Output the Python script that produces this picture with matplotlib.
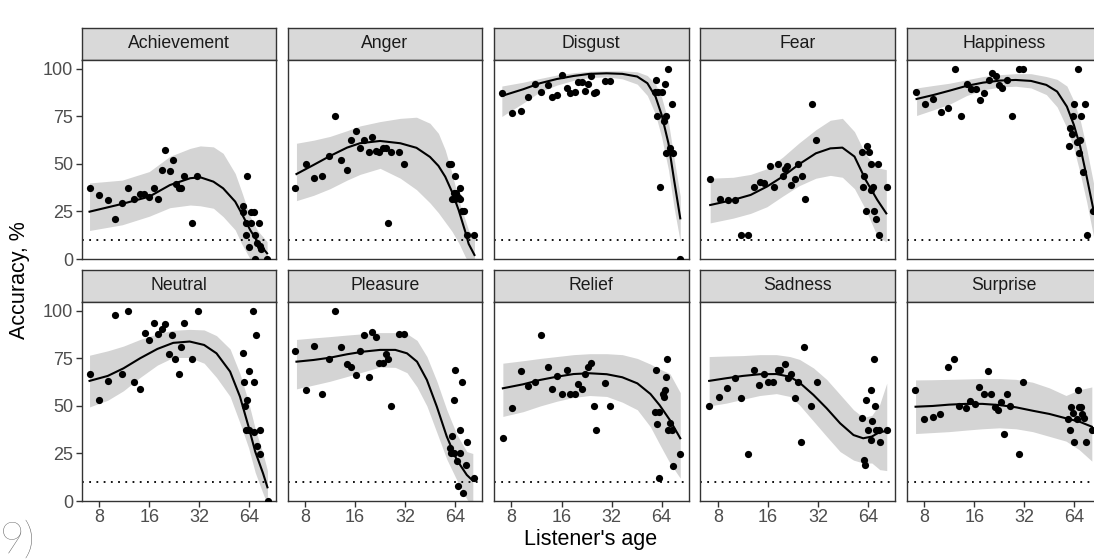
import numpy as np
import matplotlib.pyplot as plt
from matplotlib.ticker import NullLocator

plt.rcParams['font.family'] = ['Liberation Sans', 'DejaVu Sans']

emotions = ["Achievement", "Anger", "Disgust", "Fear", "Happiness",
            "Neutral", "Pleasure", "Relief", "Sadness", "Surprise"]

# observed points: (listener age, accuracy %)
achievement_pts = [(7.0, 37.5), (8.0, 33.5), (9.0, 30.9), (10.0, 20.9), (11.0, 29.3), (12.0, 37.5),
                   (13.0, 31.4), (14.0, 34.0), (14.9, 34.0), (16.0, 32.5), (17.1, 37.5), (18.0, 31.4),
                   (19.2, 47.0), (20.0, 57.2), (21.2, 46.5), (22.2, 52.1), (23.1, 39.5), (24.2, 37.5),
                   (24.8, 37.5), (26.0, 43.9), (29.1, 18.8), (31.1, 43.9),
                   (58.3, 28.1), (58.8, 24.9), (62.0, 43.9), (60.7, 18.8), (61.2, 12.5), (63.3, 6.3),
                   (65.3, 24.9), (68.3, 24.9), (65.3, 18.8), (72.7, 18.8), (69.2, 12.5), (70.9, 8.2),
                   (73.7, 7.0), (75.6, 5.3), (69.2, 0), (81.8, 0)]
anger_pts = [(7.0, 37.5), (8.1, 50.2), (9.1, 42.8), (10.1, 43.9), (11.1, 54.4), (12.1, 75.3),
             (13.2, 52.3), (14.2, 47.0), (15.1, 62.6), (16.1, 67.5), (17.2, 58.6), (18.2, 62.6),
             (19.3, 56.3), (20.2, 64.4), (21.4, 57.0), (22.3, 56.3), (23.6, 58.2), (24.5, 58.6),
             (25.2, 18.8), (26.3, 56.3), (29.2, 56.3), (31.3, 50.2),
             (59.0, 50.2), (60.0, 50.2), (64.1, 43.9), (68.8, 37.5), (62.5, 34.6), (64.6, 34.6),
             (66.6, 32.8), (61.2, 31.4), (63.7, 31.4), (68.0, 31.4), (70.2, 25.3), (72.0, 25.3),
             (75.1, 12.5), (83.1, 12.5)]
disgust_pts = [(7.0, 87.5), (8.1, 76.7), (9.1, 78.1), (10.1, 85.4), (11.1, 92.1), (12.1, 87.7),
               (13.2, 91.8), (14.1, 85.4), (15.1, 86.3), (16.1, 96.8), (17.2, 89.8), (18.1, 87.5),
               (19.3, 87.7), (20.1, 93.3), (21.1, 93.3), (22.2, 88.6), (23.0, 91.9), (24.2, 96.1),
               (25.1, 87.5), (25.8, 87.7), (29.4, 93.9), (31.2, 93.9),
               (59.2, 94.0), (70.3, 100), (66.6, 91.9), (58.4, 87.7), (60.6, 87.7), (64.0, 87.7),
               (73.9, 81.4), (60.0, 75.3), (68.4, 75.3), (65.9, 72.8), (67.8, 56.0), (71.6, 58.2),
               (74.4, 56.0), (62.3, 37.7), (82.8, 0)]
fear_pts = [(7.2, 41.9), (8.2, 31.6), (9.2, 31.1), (10.1, 31.1), (11.1, 12.5), (12.2, 12.5),
            (13.3, 37.7), (14.3, 40.7), (15.1, 40.0), (16.4, 48.9), (17.4, 37.7), (18.5, 50.2),
            (19.8, 43.9), (20.2, 47.5), (20.9, 49.1), (22.1, 38.8), (23.3, 41.9), (24.2, 50.2),
            (25.5, 43.9), (26.6, 31.4), (29.6, 81.4), (31.2, 62.6),
            (58.9, 56.5), (63.0, 59.6), (65.0, 56.5), (67.1, 50.2), (74.0, 50.2), (61.0, 43.9),
            (59.4, 37.7), (66.5, 36.3), (68.8, 37.7), (83.0, 37.7), (62.0, 25.3), (70.0, 25.3),
            (71.8, 20.9), (74.8, 12.5)]
happiness_pts = [(7.1, 87.9), (8.1, 81.8), (9.1, 84.0), (10.1, 77.2), (11.2, 79.3), (12.3, 100),
                 (13.3, 75.1), (14.4, 92.1), (15.3, 89.6), (16.4, 89.3), (17.4, 83.7), (18.4, 87.5),
                 (19.6, 94.0), (20.6, 97.7), (21.5, 96.5), (22.5, 91.8), (23.4, 90.0), (25.3, 94.0),
                 (26.9, 75.3), (29.9, 100), (31.6, 100),
                 (67.0, 100), (64.0, 81.4), (74.4, 81.4), (62.6, 75.3), (70.0, 75.3), (60.6, 68.9),
                 (61.9, 65.8), (59.5, 59.6), (66.4, 61.6), (69.0, 62.6), (67.8, 56.0), (72.5, 46.0),
                 (83.0, 25.3), (75.8, 12.5)]
neutral_pts = [(7.0, 66.7), (8.0, 53.2), (9.0, 63.2), (10.0, 97.7), (11.0, 66.7), (12.0, 100),
               (13.0, 62.5), (14.0, 58.9), (15.0, 88.4), (16.0, 84.9), (17.1, 93.9), (18.0, 87.7),
               (19.0, 90.7), (20.0, 93.0), (21.0, 77.5), (22.0, 87.4), (23.0, 74.9), (24.0, 66.7),
               (25.0, 81.1), (25.8, 93.7), (29.0, 74.9), (31.5, 100),
               (58.5, 78.1), (59.5, 62.5), (60.0, 49.8), (62.0, 53.2), (63.3, 68.6), (61.0, 37.2),
               (64.0, 37.2), (67.2, 100), (68.2, 62.5), (70.0, 87.4), (68.0, 36.1), (74.0, 37.2),
               (71.0, 28.9), (74.0, 24.7), (82.5, 0)]
pleasure_pts = [(7.0, 79.1), (8.1, 58.2), (9.1, 81.6), (10.1, 56.1), (11.1, 74.9), (12.1, 100),
                (13.2, 81.2), (14.2, 72.1), (15.1, 70.4), (16.1, 66.1), (17.2, 79.1), (18.2, 87.5),
                (19.3, 65.4), (20.2, 88.8), (21.3, 86.5), (22.3, 72.8), (23.6, 72.8), (24.5, 77.4),
                (25.3, 74.9), (26.3, 49.8), (29.2, 87.7), (31.3, 87.7),
                (63.6, 68.8), (70.0, 62.5), (62.5, 53.0), (68.8, 37.4), (61.2, 34.4), (75.1, 31.1),
                (59.1, 28.1), (60.4, 25.1), (62.5, 25.1), (68.4, 25.1), (65.4, 21.2), (74.5, 18.8),
                (82.9, 12.3), (66.9, 8.1), (71.7, 4.0)]
relief_pts = [(7.1, 33.3), (8.1, 49.1), (9.1, 68.4), (10.1, 60.4), (11.1, 62.6), (12.1, 87.4),
              (13.2, 70.7), (14.1, 58.8), (15.1, 65.8), (16.1, 56.1), (17.2, 68.8), (18.1, 56.1),
              (19.3, 56.1), (20.1, 61.6), (21.1, 58.8), (22.2, 66.7), (23.0, 70.7), (24.2, 72.8),
              (25.1, 49.8), (25.8, 37.4), (29.4, 62.3), (31.2, 49.8),
              (59.2, 68.8), (69.3, 74.9), (67.9, 65.3), (66.9, 58.4), (65.1, 56.3), (66.0, 54.9),
              (58.3, 46.7), (62.0, 46.7), (60.1, 40.5), (71.6, 41.2), (69.4, 37.4), (73.9, 37.4),
              (82.8, 24.9), (74.4, 18.6), (62.0, 12.3)]
sadness_pts = [(7.1, 50.0), (8.1, 54.9), (9.1, 59.5), (10.1, 64.6), (11.1, 54.0), (12.2, 24.9),
               (13.2, 68.8), (14.2, 60.9), (15.2, 66.7), (16.1, 62.5), (17.2, 62.5), (18.3, 68.8),
               (18.9, 68.8), (20.2, 72.1), (21.2, 64.6), (22.2, 66.7), (23.3, 54.0), (24.3, 62.5),
               (25.4, 31.1), (26.4, 81.2), (29.2, 49.8), (31.4, 62.5),
               (59.2, 43.5), (60.5, 21.6), (61.6, 18.8), (62.7, 53.2), (63.8, 37.4), (66.3, 32.1),
               (66.9, 58.4), (68.0, 42.1), (69.4, 74.9), (70.4, 49.8), (72.0, 37.4), (74.7, 37.4),
               (75.7, 31.1), (83.0, 37.4)]
surprise_pts = [(7.0, 58.2), (8.0, 43.3), (9.0, 44.2), (10.0, 45.8), (11.1, 70.7), (12.1, 74.9),
                (13.0, 50.0), (14.2, 49.1), (15.0, 52.6), (16.1, 51.2), (17.1, 60.2), (18.3, 56.1),
                (19.3, 68.6), (20.2, 56.1), (21.3, 49.5), (22.2, 47.9), (23.3, 52.1), (24.3, 35.4),
                (25.3, 56.1), (26.3, 49.8), (29.6, 24.7), (31.3, 62.5),
                (58.8, 43.3), (60.2, 37.4), (61.3, 49.5), (62.7, 46.1), (63.7, 31.1), (66.3, 43.0),
                (67.2, 58.2), (68.4, 49.5), (70.0, 49.5), (71.3, 45.6), (73.5, 43.5), (74.7, 31.1),
                (81.5, 37.4)]

# fitted curve: (age, fit, lower, upper)
achievement_fit = [(7.0, 24.9, 15.0, 40.0), (11.0, 29.0, 18.0, 41.5), (16.0, 32.8, 22.5, 46.0),
                   (21.3, 38.9, 27.0, 54.0), (28.2, 42.5, 28.4, 58.2), (32.4, 43.0, 28.0, 59.5),
                   (38.9, 40.7, 26.7, 59.0), (44.5, 37.2, 22.3, 55.6), (52.6, 30.2, 15.3, 45.0),
                   (57.5, 24.0, 8.0, 35.5), (64.7, 15.3, 0.0, 22.3), (71.6, 9.1, -3.0, 15.0),
                   (81.8, 3.0, -5.0, 9.1)]
anger_fit = [(7.1, 44.7, 30.7, 60.9), (9.0, 49.5, 33.5, 62.5), (11.3, 54.2, 37.0, 64.5),
             (14.3, 58.6, 41.5, 67.5), (17.1, 60.9, 44.5, 70.0), (22.6, 62.1, 47.7, 72.3),
             (29.9, 60.9, 42.5, 74.0), (37.4, 58.5, 36.5, 74.6), (45.1, 53.7, 29.5, 71.4),
             (50.7, 49.0, 24.3, 66.1), (55.7, 43.3, 19.4, 57.4), (61.2, 35.3, 14.5, 45.1),
             (67.1, 25.7, 8.5, 31.0), (73.5, 14.4, 1.2, 20.5), (77.0, 8.0, -2.0, 15.0),
             (83.5, 2.1, -6.0, 11.7)]
disgust_fit = [(7.0, 85.8, 75.0, 91.0), (9.4, 89.3, 82.0, 93.0), (11.9, 92.5, 88.0, 95.0),
               (15.0, 94.7, 91.5, 96.8), (18.9, 96.3, 94.0, 98.0), (23.6, 97.4, 95.5, 98.8),
               (29.9, 97.7, 95.8, 99.0), (37.1, 97.4, 94.8, 99.0), (45.6, 96.0, 92.0, 98.5),
               (52.5, 92.5, 86.0, 96.5), (58.8, 85.4, 76.0, 92.0), (64.0, 75.8, 64.0, 85.0),
               (70.3, 60.9, 47.0, 72.0), (76.0, 41.6, 27.0, 53.0), (82.8, 21.4, 9.0, 33.0)]
fear_fit = [(7.2, 28.4, 19.0, 42.5), (9.9, 31.1, 21.5, 43.0), (12.6, 33.7, 24.0, 44.5),
            (15.8, 38.1, 27.5, 47.5), (19.6, 43.3, 33.0, 53.5), (24.6, 49.8, 38.5, 61.0),
            (31.1, 55.6, 42.5, 68.0), (38.0, 58.2, 44.0, 73.0), (44.9, 58.6, 43.0, 74.0),
            (53.1, 53.9, 37.0, 67.0), (62.0, 41.6, 26.0, 55.0), (72.8, 31.1, 12.0, 48.0),
            (82.5, 24.0, 9.0, 47.0)]
happiness_fit = [(7.2, 84.2, 75.5, 90.0), (9.1, 86.3, 78.5, 91.3), (11.4, 88.6, 81.5, 92.5),
                 (14.4, 91.1, 86.0, 94.3), (18.1, 92.8, 89.0, 96.0), (23.0, 93.9, 90.5, 97.0),
                 (28.4, 94.2, 90.9, 97.5), (35.1, 93.7, 90.0, 97.5), (43.4, 91.6, 86.5, 96.0),
                 (50.4, 88.1, 80.0, 94.5), (57.7, 80.2, 69.0, 91.0), (63.6, 70.5, 58.0, 83.0),
                 (69.4, 59.1, 45.0, 73.0), (75.9, 43.3, 30.0, 58.0), (83.4, 25.8, 12.0, 40.0)]
neutral_fit = [(7.0, 63.2, 49.5, 76.7), (9.0, 65.8, 53.0, 79.0), (11.2, 69.8, 58.0, 81.5),
               (14.1, 75.1, 65.0, 85.0), (17.9, 80.0, 71.5, 88.0), (22.3, 83.2, 75.5, 89.8),
               (28.0, 83.9, 75.5, 90.3), (34.2, 82.1, 72.5, 90.0), (40.6, 77.7, 65.0, 87.0),
               (49.0, 68.1, 55.0, 80.0), (56.2, 54.9, 41.0, 67.0), (63.3, 39.1, 28.0, 52.0),
               (69.4, 26.0, 15.0, 38.0), (77.3, 14.6, 4.0, 25.0), (82.2, 7.2, -2.0, 16.0)]
pleasure_fit = [(7.1, 73.3, 59.0, 85.0), (9.0, 74.2, 61.0, 85.8), (11.3, 75.4, 63.0, 86.5),
                (14.3, 77.2, 65.5, 87.3), (18.0, 78.6, 68.0, 88.0), (22.6, 79.5, 70.5, 88.6),
                (27.9, 79.5, 70.3, 88.6), (32.8, 77.7, 67.5, 88.0), (37.7, 73.3, 60.0, 84.5),
                (43.2, 63.7, 50.0, 76.0), (49.6, 49.6, 36.0, 63.0), (56.9, 33.9, 22.0, 48.0),
                (65.4, 21.6, 11.0, 35.0), (75.1, 13.7, 1.0, 26.0), (81.6, 10.7, -3.0, 25.0)]
relief_fit = [(7.1, 59.3, 44.5, 72.5), (9.4, 61.4, 47.0, 73.8), (11.9, 63.7, 50.0, 75.0),
              (15.0, 65.4, 52.5, 76.0), (18.9, 66.8, 54.5, 77.0), (23.6, 67.2, 55.5, 77.5),
              (29.9, 66.7, 55.0, 77.5), (37.1, 65.1, 52.0, 77.0), (45.7, 61.9, 48.0, 75.0),
              (54.8, 56.3, 39.0, 72.0), (62.1, 50.5, 30.0, 69.5), (71.7, 42.6, 20.0, 67.0),
              (82.8, 33.0, 12.0, 57.0)]
sadness_fit = [(7.1, 63.2, 50.0, 76.0), (9.0, 64.6, 51.5, 76.3), (11.3, 65.8, 53.5, 76.5),
               (14.3, 66.7, 55.5, 77.0), (18.0, 66.8, 56.5, 77.0), (21.7, 65.4, 55.0, 76.0),
               (24.8, 62.3, 50.5, 74.5), (30.1, 55.8, 42.0, 70.0), (36.1, 48.8, 34.0, 64.0),
               (43.5, 40.9, 26.0, 56.0), (52.4, 34.7, 21.5, 48.0), (59.9, 33.0, 20.0, 44.0),
               (67.5, 33.9, 20.0, 45.0), (75.4, 36.3, 16.5, 51.0), (83.0, 36.8, 16.0, 62.0)]
surprise_fit = [(7.1, 49.6, 35.5, 63.7), (9.0, 50.0, 36.0, 63.8), (11.3, 50.7, 36.5, 64.0),
                (14.3, 51.1, 37.3, 64.2), (17.9, 51.1, 38.0, 64.4), (22.6, 50.5, 38.5, 64.4),
                (28.5, 49.3, 38.0, 64.0), (35.9, 47.5, 36.5, 62.5), (45.3, 45.8, 34.0, 59.5),
                (57.0, 43.5, 31.5, 55.5), (68.4, 41.8, 27.0, 58.5), (81.5, 39.1, 21.0, 60.0)]

chance_level = 10
x_ticks = [8, 16, 32, 64]
y_ticks = [0, 25, 50, 75, 100]

points = dict(zip(emotions, [achievement_pts, anger_pts, disgust_pts, fear_pts, happiness_pts,
                             neutral_pts, pleasure_pts, relief_pts, sadness_pts, surprise_pts]))
fits = dict(zip(emotions, [achievement_fit, anger_fit, disgust_fit, fear_fit, happiness_fit,
                           neutral_fit, pleasure_fit, relief_fit, sadness_fit, surprise_fit]))

W, H = 1094, 559
fig = plt.figure(figsize=(W / 100, H / 100), dpi=100)

col_left = [81.7, 287.6, 494.0, 700.3, 906.7]
panel_w = 194.5
rows = [(28, 60, 259), (270, 302, 501)]  # strip top, panel top, panel bottom (px)


def box(x0, y0, x1, y1):
    return [x0 / W, 1 - y1 / H, (x1 - x0) / W, (y1 - y0) / H]


edge = '#333333'
for i, emo in enumerate(emotions):
    r, c = divmod(i, 5)
    st, pt, pb = rows[r]
    x0 = col_left[c]

    # strip
    sax = fig.add_axes(box(x0, st, x0 + panel_w, pt))
    sax.set_facecolor('#d9d9d9')
    sax.set_xticks([])
    sax.set_yticks([])
    for s in sax.spines.values():
        s.set_color(edge)
        s.set_linewidth(1.0)
    sax.text(0.5, 0.5, emo, ha='center', va='center', fontsize=12.7, color='#1a1a1a',
             transform=sax.transAxes)

    ax = fig.add_axes(box(x0, pt, x0 + panel_w, pb))
    ax.set_xscale('log', base=2)
    ax.set_xlim(6.28, 92.8)
    ax.set_ylim(0, 104.7)

    f = np.array(fits[emo])
    ax.fill_between(f[:, 0], f[:, 2], f[:, 3], color='#d4d4d4', lw=0, zorder=1)
    ax.axhline(chance_level, color='black', lw=1.3, ls=(0, (1, 3)), zorder=2)
    p = np.array(points[emo])
    ax.scatter(p[:, 0], p[:, 1], s=27, color='black', lw=0, zorder=3)
    ax.plot(f[:, 0], f[:, 1], color='black', lw=1.5, zorder=4)

    ax.xaxis.set_minor_locator(NullLocator())
    ax.set_xticks(x_ticks)
    ax.set_xticklabels([str(t) for t in x_ticks])
    ax.set_yticks(y_ticks)
    ax.tick_params(length=4, width=1, color=edge, labelcolor='#4d4d4d', labelsize=13, pad=2)
    if r == 0:
        ax.tick_params(axis='x', bottom=False, labelbottom=False)
    if c != 0:
        ax.tick_params(axis='y', left=False, labelleft=False)
    for s in ax.spines.values():
        s.set_color(edge)
        s.set_linewidth(1.0)

fig.text(20 / W, 1 - 280 / H, 'Accuracy, %', rotation=90, ha='center', va='center',
         fontsize=15.5, color='black')
fig.text(591 / W, 1 - 539 / H, "Listener's age", ha='center', va='center',
         fontsize=15.5, color='black')
fig.text(35 / W, 1 - 541 / H, '9)', ha='right', va='center', fontsize=31, color='#555555',
         family=['Lato', 'DejaVu Sans'], fontweight='light')

fig.savefig('out.png', dpi=100)
